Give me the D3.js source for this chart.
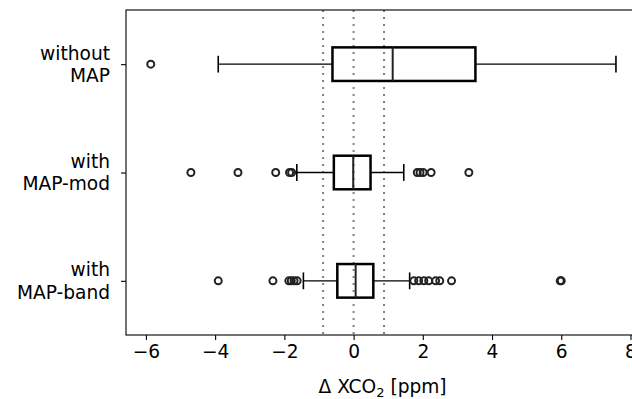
<!DOCTYPE html>
<html>
<head>
<meta charset="utf-8">
<script src="https://cdn.jsdelivr.net/npm/d3@7"></script>
<style>
  body { margin: 0; background: #fff; }
  svg { display: block; }
  text { font-family: "DejaVu Sans", sans-serif; fill: #000; }
</style>
</head>
<body>
<div id="chart"></div>
<script>
// categories, top to bottom
const categories = [["without", "MAP"], ["with", "MAP-mod"], ["with", "MAP-band"]];
const positions = [3, 2, 1];

// box statistics: [whiskerLow, q1, median, q3, whiskerHigh]
const stats = [
  [-3.91, -0.61, 1.13, 3.52, 7.58],
  [-1.64, -0.57, -0.01, 0.49, 1.45],
  [-1.45, -0.47, 0.06, 0.57, 1.62]
];

// outliers per category
const fliers = [
  [-5.86],
  [-4.70, -3.34, -2.25, -1.85, -1.79, 1.84, 1.92, 2.01, 2.24, 3.33],
  [-3.91, -2.33, -1.87, -1.80, -1.72, -1.63, 1.74, 1.88, 2.03, 2.17, 2.37, 2.49, 2.83, 5.97, 6.00]
];

const refLines = [-0.88, 0, 0.88];
const xTicks = [-6, -4, -2, 0, 2, 4, 6, 8];

const W = 632, H = 399;
const margin = { top: 10, left: 126, bottom: 335, right: 640 };
const fontSize = '18.6px';

const svg = d3.select('#chart')
  .append('svg')
  .attr('width', W)
  .attr('height', H);

const x = d3.scaleLinear()
  .domain([-6.575, 8.275])
  .range([margin.left, margin.right]);

const y = d3.scaleLinear()
  .domain([0.5, 3.5])
  .range([margin.bottom, margin.top]);

const boxH = y(0) - y(0.31);
const capH = boxH / 2;

// reference lines (dotted)
svg.selectAll('line.ref')
  .data(refLines)
  .enter()
  .append('line')
  .attr('class', 'ref')
  .attr('x1', d => x(d)).attr('x2', d => x(d))
  .attr('y1', margin.top).attr('y2', margin.bottom)
  .attr('stroke', '#808080')
  .attr('stroke-width', 2)
  .attr('stroke-dasharray', '2 5');

const g = svg.selectAll('g.box')
  .data(stats)
  .enter()
  .append('g')
  .attr('class', 'box')
  .attr('transform', (d, i) => `translate(0,${y(positions[i])})`);

// whiskers
g.append('line')
  .attr('x1', d => x(d[0])).attr('x2', d => x(d[1]))
  .attr('stroke', '#000').attr('stroke-width', 1.4);
g.append('line')
  .attr('x1', d => x(d[3])).attr('x2', d => x(d[4]))
  .attr('stroke', '#000').attr('stroke-width', 1.4);

// caps
g.selectAll('line.cap')
  .data(d => [d[0], d[4]])
  .enter()
  .append('line')
  .attr('class', 'cap')
  .attr('x1', d => x(d)).attr('x2', d => x(d))
  .attr('y1', -capH / 2).attr('y2', capH / 2)
  .attr('stroke', '#000').attr('stroke-width', 1.6);

// box
g.append('rect')
  .attr('x', d => x(d[1]))
  .attr('y', -boxH / 2)
  .attr('width', d => x(d[3]) - x(d[1]))
  .attr('height', boxH)
  .attr('fill', 'none')
  .attr('stroke', '#000')
  .attr('stroke-width', 2.5);

// median
g.append('line')
  .attr('x1', d => x(d[2])).attr('x2', d => x(d[2]))
  .attr('y1', -boxH / 2).attr('y2', boxH / 2)
  .attr('stroke', '#222').attr('stroke-width', 2);

// fliers
svg.selectAll('g.fl')
  .data(fliers)
  .enter()
  .append('g')
  .attr('class', 'fl')
  .attr('transform', (d, i) => `translate(0,${y(positions[i])})`)
  .selectAll('circle')
  .data(d => d)
  .enter()
  .append('circle')
  .attr('cx', d => x(d))
  .attr('cy', 0)
  .attr('r', 3.5)
  .attr('fill', 'none')
  .attr('stroke', '#222')
  .attr('stroke-width', 2);

// x axis
const xAxis = svg.append('g')
  .attr('transform', `translate(0,${margin.bottom})`)
  .call(d3.axisBottom(x).tickValues(xTicks).tickSize(5).tickPadding(5)
    .tickFormat(d => d < 0 ? '\u2212' + Math.abs(d) : d));
xAxis.select('.domain').remove();
xAxis.selectAll('text').attr('font-size', fontSize).attr('font-family', 'DejaVu Sans').attr('fill', '#111');
xAxis.selectAll('line').attr('stroke', '#000').attr('stroke-width', 1.1);

// y axis
const yAxis = svg.append('g')
  .attr('transform', `translate(${margin.left},0)`)
  .call(d3.axisLeft(y).tickValues(positions).tickSize(5).tickFormat(''));
yAxis.select('.domain').remove();
yAxis.selectAll('line').attr('stroke', '#000').attr('stroke-width', 1.1);

categories.forEach((lines, i) => {
  const t = svg.append('text')
    .attr('x', margin.left - 16)
    .attr('y', y(positions[i]))
    .attr('text-anchor', 'end')
    .attr('fill', '#111')
    .attr('font-size', fontSize);
  lines.forEach((s, k) => {
    t.append('tspan')
      .attr('x', margin.left - 16)
      .attr('dy', k === 0 ? '-0.25em' : '1.2em')
      .text(s);
  });
});

// frame
svg.append('rect')
  .attr('x', margin.left).attr('y', margin.top)
  .attr('width', margin.right - margin.left)
  .attr('height', margin.bottom - margin.top)
  .attr('fill', 'none')
  .attr('stroke', '#000')
  .attr('stroke-width', 1.1);

// axis label
const lab = svg.append('text')
  .attr('x', x(0) + 29)
  .attr('y', 393)
  .attr('text-anchor', 'middle')
  .attr('fill', '#111')
  .attr('font-size', fontSize);
lab.append('tspan').text('\u0394 XCO');
lab.append('tspan').attr('font-size', '13px').attr('dy', '4').text('2');
lab.append('tspan').attr('dy', '-4').text(' [ppm]');
</script>
</body>
</html>
